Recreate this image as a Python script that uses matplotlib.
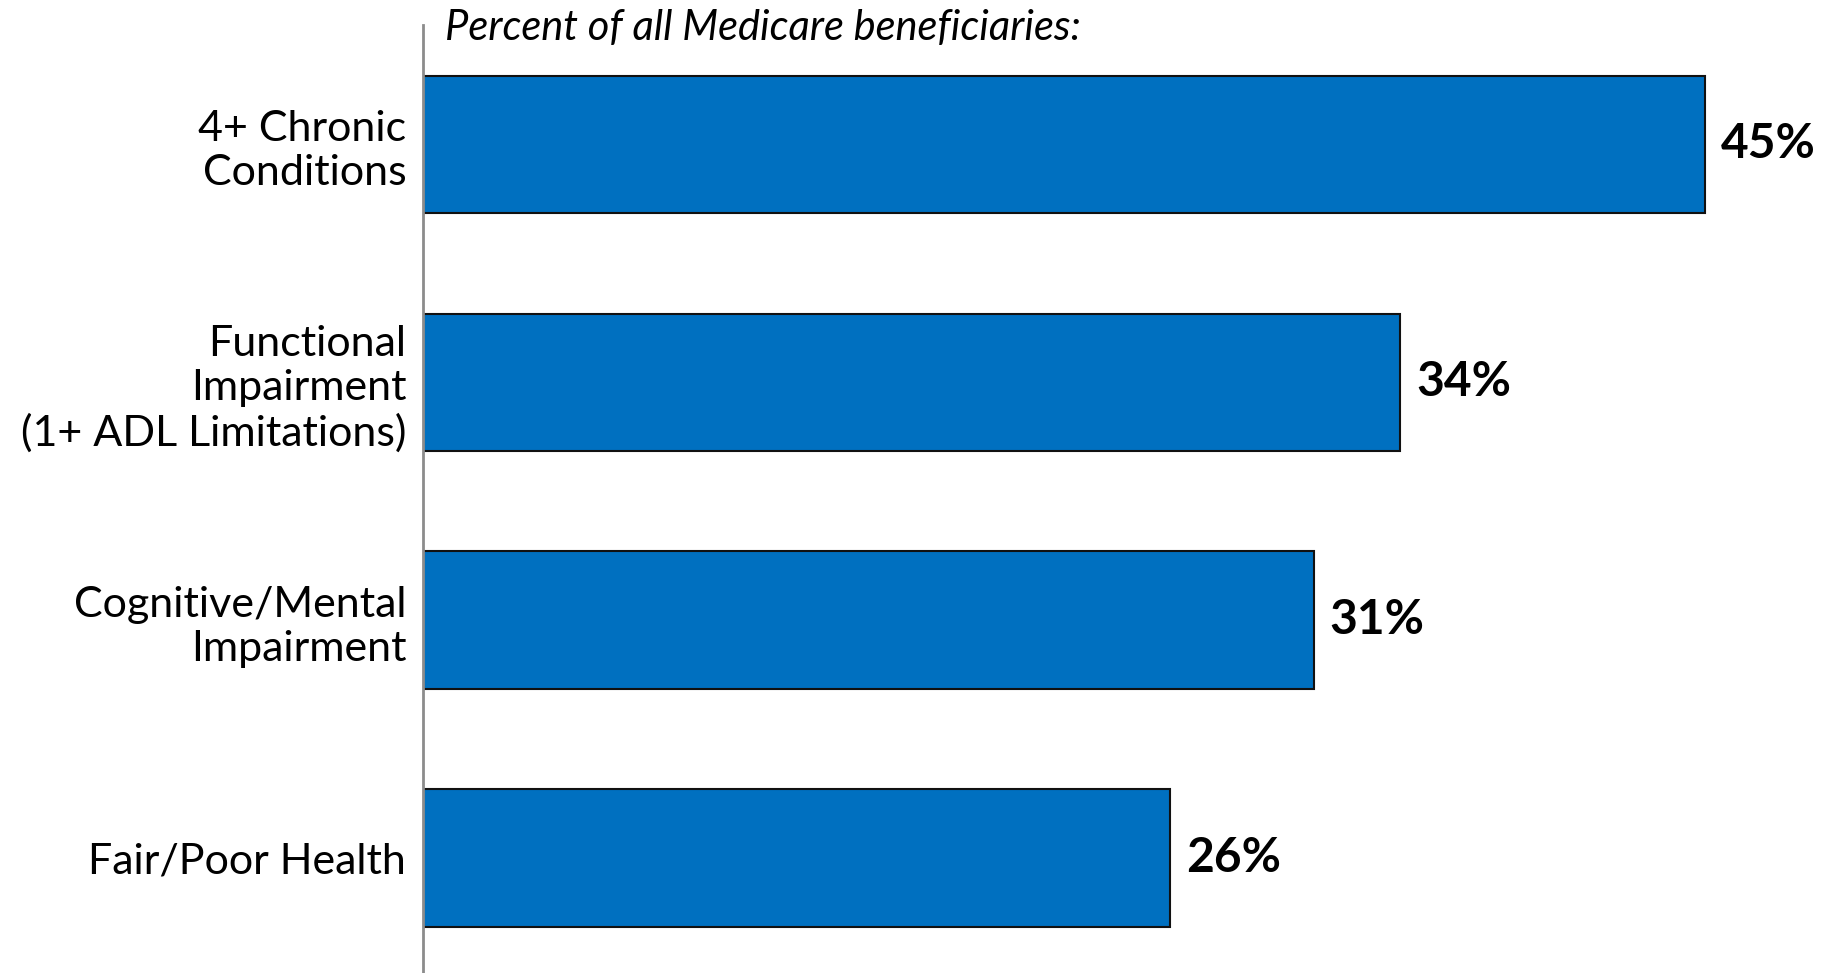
import matplotlib
matplotlib.use("Agg")
import matplotlib.pyplot as plt

# data
categories = [
    "4+ Chronic\nConditions",
    "Functional\nImpairment\n(1+ ADL Limitations)",
    "Cognitive/Mental\nImpairment",
    "Fair/Poor Health",
]
values = [44.6, 34, 31, 26]
title_text = "Percent of all Medicare beneficiaries:"

plt.rcParams["font.family"] = ["Lato", "DejaVu Sans"]

fig = plt.figure(figsize=(18.35, 9.73), dpi=100)
ax = fig.add_axes([423 / 1835, 0, 1 - 423 / 1835, 948 / 973])

positions = range(len(values))
ax.barh(positions, values, height=0.577, color="#0070C0",
        edgecolor="#111111", linewidth=1.5)

ax.set_xlim(0, 49.13)
ax.set_ylim(3.484, -0.5025)

for pos, val in zip(positions, values):
    ax.text(val + 0.55, pos, f"{val:.0f}%", va="center", ha="left",
            fontsize=34.5, fontweight="bold", color="black")

ax.set_yticks(list(positions))
ax.set_yticklabels(categories, fontsize=31, linespacing=1.2)
ax.tick_params(axis="y", length=0, pad=12)
ax.set_xticks([])

for side in ["top", "right", "bottom"]:
    ax.spines[side].set_visible(False)
ax.spines["left"].set_color("#8c8c8c")
ax.spines["left"].set_linewidth(2)

fig.text(445 / 1835, 1 - 28 / 973, title_text, fontsize=30, style="italic",
         va="center", ha="left")

fig.savefig("out.png", dpi=100)
